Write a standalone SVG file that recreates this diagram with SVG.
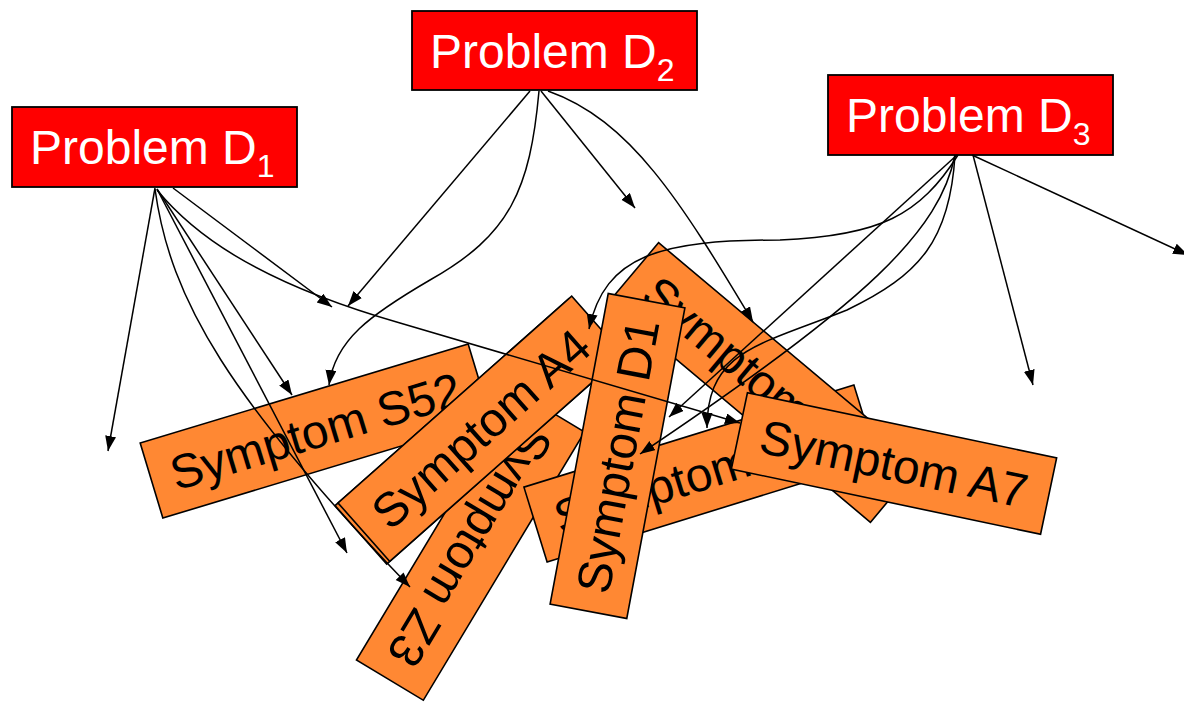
<svg xmlns="http://www.w3.org/2000/svg" width="1184" height="704" viewBox="0 0 1184 704">
<style>
.prob rect{fill:#FF0000;stroke:#000;stroke-width:1.8}
.prob text{fill:#fff;font-family:"Liberation Sans",Arial,sans-serif;font-size:48px}
.sym rect{fill:#FF8833;stroke:#000;stroke-width:1.6}
.sym text{fill:#000;font-family:"Liberation Sans",Arial,sans-serif;font-size:48px;text-anchor:middle}
.sym text.st{text-anchor:start}
#connectors path{fill:none;stroke:#000;stroke-width:1.5;marker-end:url(#ah)}
</style>
<defs>
<marker id="ah" markerUnits="userSpaceOnUse" markerWidth="16" markerHeight="12" refX="15" refY="5.5" orient="auto" viewBox="0 0 16 12">
<path d="M0,0 L15,5.5 L0,11 z" fill="#000"/>
</marker>
</defs>
<rect width="1184" height="704" fill="#fff"/>

<g id="problem-d1" class="prob"><rect x="12" y="107" width="285" height="80"/><text x="30" y="164">Problem D<tspan font-size="32" dy="13">1</tspan></text></g>
<g id="problem-d2" class="prob"><rect x="412" y="11" width="285" height="79"/><text x="430" y="68">Problem D<tspan font-size="32" dy="13">2</tspan></text></g>
<g id="problem-d3" class="prob"><rect x="828" y="75" width="285" height="80"/><text x="846" y="132">Problem D<tspan font-size="32" dy="13">3</tspan></text></g>

<g id="symptom-s52" class="sym" transform="translate(315.5,431) rotate(-16.8)"><rect x="-171.3" y="-39.2" width="342.6" height="78.4"/><text x="0" y="17">Symptom S52</text></g>
<g id="symptom-z3" class="sym" transform="translate(470.5,546) rotate(121)"><rect x="-156.5" y="-39" width="313" height="78"/><text x="0" y="17">Symptom Z3</text></g>
<g id="symptom-y" class="sym" transform="translate(700.5,473.5) rotate(-17.2)"><rect x="-172.7" y="-39.2" width="345.4" height="78.4"/><text class="st" x="-152" y="17">Symptom</text></g>
<g id="symptom-x" class="sym" transform="translate(764.5,382.5) rotate(40)"><rect x="-171" y="-39" width="342" height="78"/><text class="st" x="-150" y="17">Symptom</text></g>
<g id="symptom-a4" class="sym">
<rect x="-156" y="-39" width="312" height="78" transform="translate(477.7,431.5) rotate(-41.5)"/>
<g transform="translate(480.7,428.8) rotate(-41.5)"><rect x="-156" y="-39" width="312" height="78"/><text x="0" y="17">Symptom A4</text></g>
</g>
<g id="symptom-d1" class="sym" transform="translate(617.5,456) rotate(-79.4)"><rect x="-158" y="-39" width="316" height="78"/><text x="0" y="17">Symptom D1</text></g>
<g id="symptom-a7" class="sym" transform="translate(894,463.5) rotate(11.9)"><rect x="-158" y="-39" width="316" height="78"/><text x="0" y="17">Symptom A7</text></g>

<g id="connectors">
<path d="M155,188 L108,451"/>
<path d="M157,189 L292,395"/>
<path d="M173,188 L332,307"/>
<path d="M157,190 C190,230 250,280 400,323 L740,423"/>
<path d="M157,189 L347,553"/>
<path d="M155,189 C170,300 230,400 410,587"/>
<path d="M530,91 L348,306"/>
<path d="M539,91 C530,190 510,235 430,280 C370,315 335,340 329,385"/>
<path d="M541,91 L635,208"/>
<path d="M548,91 C630,120 680,200 753,322"/>
<path d="M958,155 C920,215 880,236 780,240 C660,240 605,255 589,329"/>
<path d="M957,155 L669,417"/>
<path d="M955,155 C950,240 920,275 847,310 C760,345 707,350 707,428"/>
<path d="M955,155 C940,230 870,300 640,454"/>
<path d="M973,155 L1033,385"/>
<path d="M972,155 L1188,255"/>
</g>
</svg>
